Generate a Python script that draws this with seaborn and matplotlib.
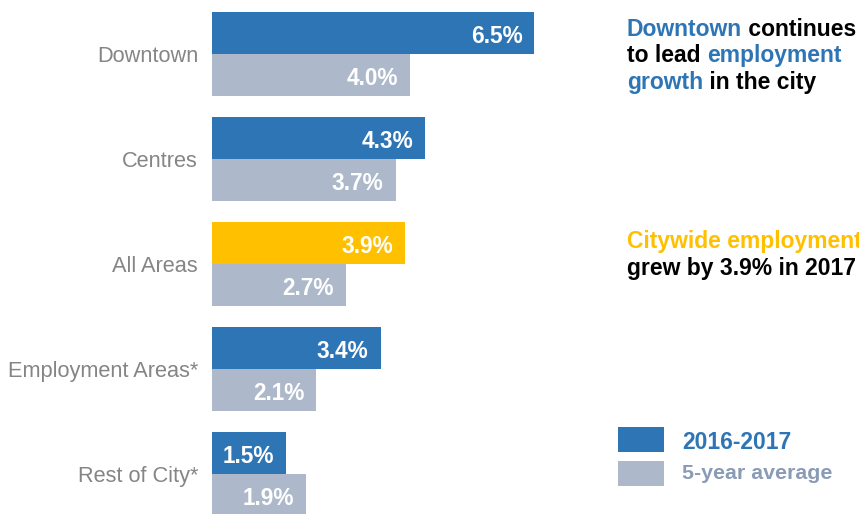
import matplotlib
matplotlib.use("Agg")
import matplotlib.pyplot as plt
from matplotlib.patches import Rectangle
import pandas as pd
import seaborn as sns

# Employment growth by area
regions = ["Downtown", "Centres", "All Areas", "Employment Areas*", "Rest of City*"]
growth_2016_2017 = [6.5, 4.3, 3.9, 3.4, 1.5]
growth_5yr_avg = [4.0, 3.7, 2.7, 2.1, 1.9]
periods = ["2016-2017", "5-year average"]

BLUE = "#2E75B6"
GREY = "#ADB9CA"
GOLD = "#FFC000"
LABEL_GREY = "#858585"
LEGEND_GREY = "#8A9BB5"

df = pd.DataFrame({
    "region": regions * 2,
    "period": [periods[0]] * len(regions) + [periods[1]] * len(regions),
    "growth": growth_2016_2017 + growth_5yr_avg,
})

sns.set_theme(style="white")
plt.rcParams["font.family"] = ["Liberation Sans", "DejaVu Sans"]

W, H = 859, 514
fig = plt.figure(figsize=(W / 100, H / 100), dpi=100)
ax = fig.add_axes([212 / W, 0, 1 - 212 / W, 1])

sns.barplot(data=df, y="region", x="growth", hue="period", order=regions,
            hue_order=periods, palette=[BLUE, GREY], orient="h",
            width=0.8, saturation=1, legend=False, linewidth=0,
            edgecolor="none", ax=ax)

# highlight the citywide figure
ax.containers[0][regions.index("All Areas")].set_facecolor(GOLD)

for cont, vals in zip(ax.containers, [growth_2016_2017, growth_5yr_avg]):
    for bar, v in zip(cont, vals):
        yc = bar.get_y() + bar.get_height() / 2
        ax.annotate(f"{v:.1f}%", xy=(v, yc), xytext=(-12, -1),
                    textcoords="offset pixels", ha="right",
                    va="center_baseline", color="white", fontsize=16.3,
                    fontweight="bold")

ax.set_xlim(0, (W - 212) / 49.6)
ax.set_ylim(4 + 40 / 105, -54 / 105)
ax.set_xlabel("")
ax.set_ylabel("")
ax.set_xticks([])
ax.tick_params(axis="y", length=0, pad=10, labelsize=15.7, labelcolor=LABEL_GREY)
for s in ax.spines.values():
    s.set_visible(False)


def rich_line(x, y, pieces, size=16.5):
    """Draw a line of text made of differently coloured pieces."""
    prev = None
    for txt, col in pieces:
        if prev is None:
            prev = fig.text(x / W, 1 - y / H, txt, color=col, fontsize=size,
                            fontweight="bold", ha="left", va="baseline")
        else:
            prev = ax.annotate(txt, xy=(1, 0), xycoords=prev, ha="left",
                               va="bottom", color=col, fontsize=size,
                               fontweight="bold", annotation_clip=False)


rich_line(627, 36, [("Downtown", BLUE), (" continues", "black")])
rich_line(627, 62, [("to lead ", "black"), ("employment", BLUE)])
rich_line(627, 89, [("growth", BLUE), (" in the city", "black")])

rich_line(627, 248, [("Citywide employment", GOLD)])
rich_line(627, 275, [("grew by 3.9% in 2017", "black")])

# legend
for (y0, y1), col, lab, tcol, base, fs in [
        ((427, 452), BLUE, periods[0], BLUE, 449, 16.5),
        ((461, 486), GREY, periods[1], LEGEND_GREY, 479, 15.4)]:
    fig.add_artist(Rectangle((618 / W, 1 - y1 / H), 46 / W, (y1 - y0) / H,
                             transform=fig.transFigure, facecolor=col,
                             edgecolor="none"))
    fig.text(682 / W, 1 - base / H, lab, color=tcol, fontsize=fs,
             fontweight="bold", ha="left", va="baseline")

fig.savefig("out.png", dpi=100)
